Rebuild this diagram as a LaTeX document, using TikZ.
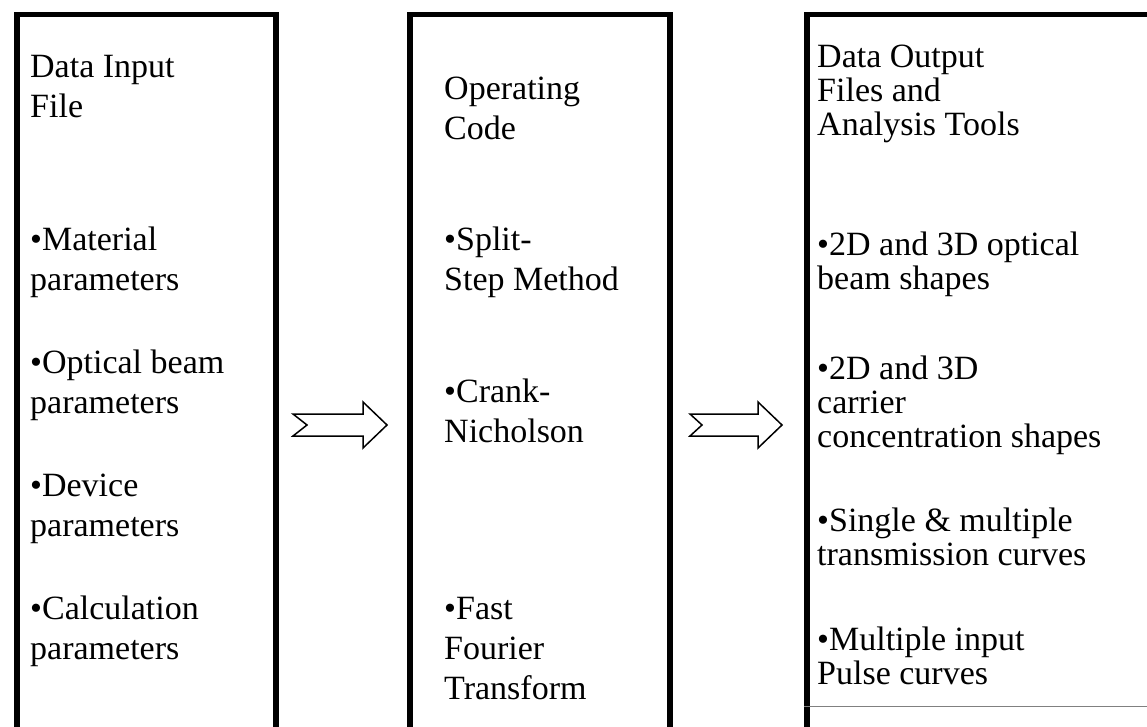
\documentclass[tikz,border=0pt]{standalone}
\usepackage{fontspec}
\setmainfont{Liberation Serif}
\usetikzlibrary{positioning}

\begin{document}
\begin{tikzpicture}[x=1pt, y=-1pt,
    panel/.style={rectangle, draw, line width=5.5pt, anchor=north west, inner sep=0pt},
    txt/.style={anchor=base west, inner sep=0pt, align=left, font=\fontsize{34}{40}\selectfont},
    outtxt/.style={txt, font=\fontsize{34}{34}\selectfont},
    blockarrow/.style={draw, line width=1.5pt, fill=white, line join=miter}
]
\useasboundingbox (0,0) rectangle (1147,727);
\clip (0,0) rectangle (1147,727);

% Boxes
\node[panel, minimum width=259pt, minimum height=760pt] (input) at (14,12) {};
\node[panel, minimum width=260pt, minimum height=760pt] (code) at (407,12) {};
\node[panel, minimum width=380pt, minimum height=760pt] (output) at (804,12) {};
\draw[gray, line width=0.8pt] (output.west |- 0,706) -- (1147,706);

% Data input file (base = last line)
\node[txt] (inhead) at (30,118) {Data Input\\File};
\node[txt] (in1) at (30,290) {•Material\\parameters};
\node[txt] (in2) at (30,413) {•Optical beam\\parameters};
\node[txt] (in3) at (30,536) {•Device\\parameters};
\node[txt] (in4) at (30,659) {•Calculation\\parameters};

% Operating code
\node[txt] (codehead) at (444,140) {Operating\\Code};
\node[txt] (code1) at (444,290) {•Split-\\Step Method};
\node[txt] (code2) at (444,442) {•Crank-\\Nicholson};
\node[txt] (code3) at (444,699) {•Fast\\Fourier\\Transform};

% Data output
\node[outtxt] (outhead) at (817,136) {Data Output\\Files and\\Analysis Tools};
\node[outtxt] (out1) at (817,289) {•2D and 3D optical\\beam shapes};
\node[outtxt] (out2) at (817,447) {•2D and 3D\\carrier\\concentration shapes};
\node[outtxt] (out3) at (817,565) {•Single \& multiple\\transmission curves};
\node[outtxt] (out4) at (817,684) {•Multiple input\\Pulse curves};

% Arrows
\coordinate (a1) at (340,425);
\coordinate (a2) at (736,425);
\draw[blockarrow, shift={(a1)}] (-47,-11) -- (23,-11) -- (23,-23) -- (47,0) -- (23,23) -- (23,11) -- (-47,11) -- (-33,0) -- cycle;
\draw[blockarrow, shift={(a2)}] (-46,-11) -- (22,-11) -- (22,-23) -- (46,0) -- (22,23) -- (22,11) -- (-46,11) -- (-34,0) -- cycle;
\end{tikzpicture}
\end{document}
